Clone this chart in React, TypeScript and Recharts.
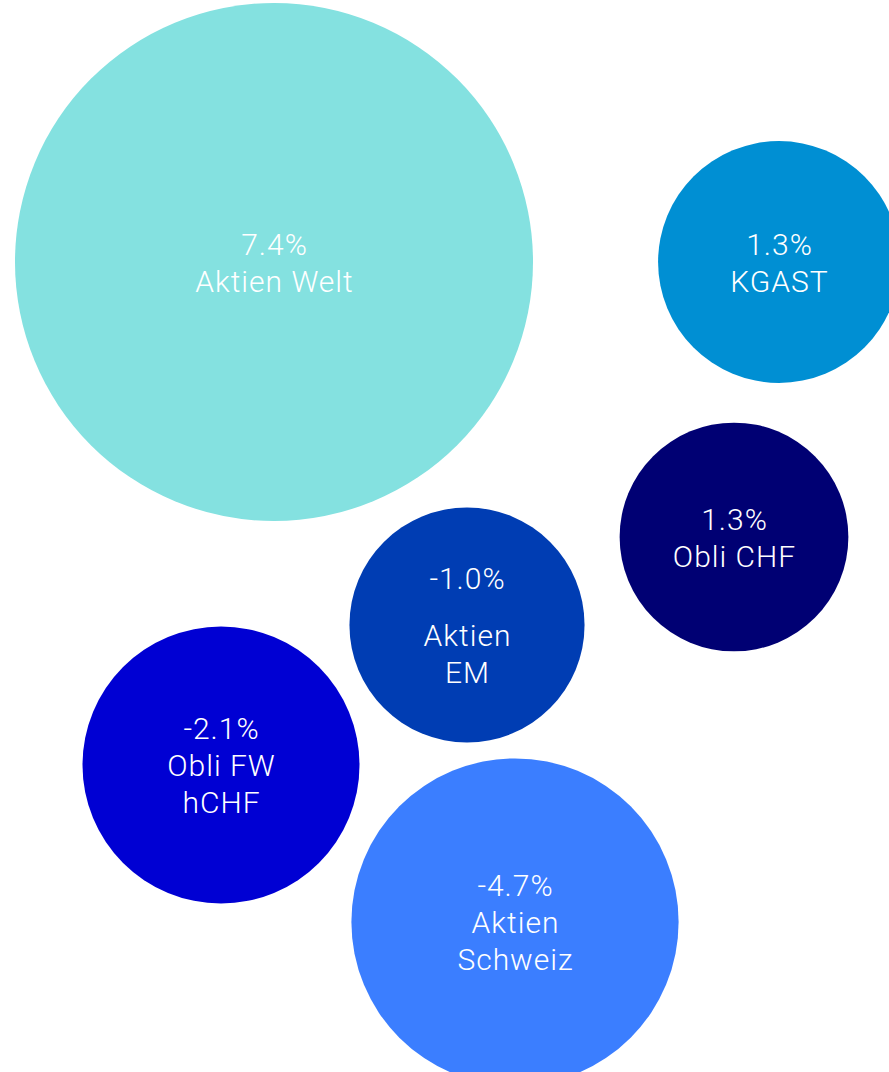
import { ScatterChart, Scatter, XAxis, YAxis, ZAxis, Cell } from "recharts"

// Anlageklassen (Rendite 2022, Blasengrösse = Gewicht)
const names = ["Aktien Welt", "KGAST", "Obli CHF", "Aktien EM", "Obli FW hCHF", "Aktien Schweiz"]
const labelLines = [
  ["Aktien Welt"],
  ["KGAST"],
  ["Obli CHF"],
  ["Aktien", "EM"],
  ["Obli FW", "hCHF"],
  ["Aktien", "Schweiz"],
]
const returns = [7.4, 1.3, 1.3, -1.0, -2.1, -4.7]
const weights = [100, 21.8, 19.5, 20.6, 28.6, 39.9]
const posX = [274, 779, 734, 467, 221, 515]
const posY = [262, 262, 537, 625, 765, 922]
const colors = ["#84E1E0", "#008FD3", "#000073", "#003DB3", "#0000D3", "#3B7EFF"]

const WIDTH = 889
const HEIGHT = 1072
const MAX_R = 259
const LINE_H = 37
const FONT = "Roboto, 'Open Sans', sans-serif"

// extra gap after the value line, only "Aktien EM" has it in the original
const extraGap: Record<string, number> = { "Aktien EM": 20 }

const data = names.map((name, i) => ({
  name,
  lines: labelLines[i],
  value: returns[i],
  x: posX[i],
  y: posY[i],
  z: weights[i],
}))

function Bubble(props: any) {
  const { cx, cy, width, fill, payload } = props
  const r = width / 2
  const gap = extraGap[payload.name] ?? 0
  const texts = [`${payload.value.toFixed(1)}%`, ...payload.lines]
  const span = (texts.length - 1) * LINE_H + gap
  const first = cy - span / 2 + 11
  return (
    <g>
      <circle cx={cx} cy={cy} r={r} fill={fill} />
      {texts.map((t: string, i: number) => (
        <text
          key={i}
          x={cx + 0.5}
          y={first + i * LINE_H + (i > 0 ? gap : 0)}
          textAnchor="middle"
          fill="#ffffff"
          fontFamily={FONT}
          fontWeight={300}
          fontSize={30}
          letterSpacing={1}
        >
          {t}
        </text>
      ))}
    </g>
  )
}

export default function App() {
  return (
    <div style={{ position: "absolute", left: 0, top: 0, width: WIDTH, height: HEIGHT, background: "#fff" }}>
      <ScatterChart width={WIDTH} height={HEIGHT} margin={{ top: 0, right: 0, bottom: 0, left: 0 }}>
        <XAxis type="number" dataKey="x" domain={[0, WIDTH]} hide />
        <YAxis type="number" dataKey="y" domain={[0, HEIGHT]} reversed hide />
        <ZAxis type="number" dataKey="z" domain={[0, 100]} range={[0, Math.PI * MAX_R * MAX_R]} />
        <Scatter data={data} shape={Bubble} isAnimationActive={false}>
          {data.map((d, i) => (
            <Cell key={d.name} fill={colors[i]} />
          ))}
        </Scatter>
      </ScatterChart>
    </div>
  )
}
